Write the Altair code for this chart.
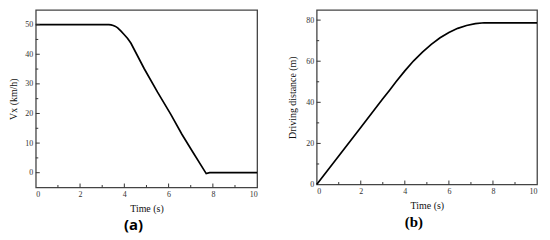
import altair as alt
import pandas as pd

# Panel (a): longitudinal speed
t_a = [0, 3.3, 3.4, 3.5, 3.6, 3.7, 3.85, 4.0, 4.15, 4.3, 4.9, 5.5, 6.1, 6.6, 7.05, 7.7, 7.85, 10]
v_a = [50, 50, 49.9, 49.7, 49.4, 48.9, 47.8, 46.6, 45.3, 43.7, 35.1, 27.2, 19.7, 13.0, 7.5, -0.3, 0, 0]

# Panel (b): driving distance
t_b = [0, 1, 2, 3, 3.3, 3.6, 4.0, 4.4, 4.8, 5.2, 5.6, 6.0, 6.4, 6.8, 7.2, 7.6, 8, 10]
d_b = [0, 13.9, 27.8, 41.7, 45.8, 50.0, 55.3, 60.2, 64.4, 68.2, 71.4, 74.0, 76.0, 77.4, 78.3, 78.7, 78.7, 78.7]

x_major = [0, 2, 4, 6, 8, 10]
x_minor = [1, 3, 5, 7, 9]
ya_major = [0, 10, 20, 30, 40, 50]
ya_minor = [5, 15, 25, 35, 45]
yb_major = [0, 20, 40, 60, 80]
yb_minor = [10, 30, 50, 70]

FONT = "Liberation Serif"
WA, HA = 223, 179
WB, HB = 222, 176


def axis(values, title, pad):
    return alt.Axis(values=values, title=title, ticks=False, tickSize=0, grid=False,
                    domain=False, labelFont=FONT, labelFontSize=8, labelColor="#333",
                    labelPadding=3, titleFont=FONT, titleFontSize=10,
                    titleFontWeight="normal", titleColor="#111", titlePadding=pad)


def panel(t, y, ylabel, ydom, ymaj, ymin, W, H, title, title_font, ypad):
    xs = alt.Scale(domain=[0, 10], nice=False, zero=False)
    ys = alt.Scale(domain=ydom, nice=False, zero=False)
    xax = axis(x_major, "Time (s)", 5)
    yax = axis(ymaj, ylabel, ypad)
    df = pd.DataFrame({"t": t, "y": y})
    line = alt.Chart(df).mark_line(color="black", strokeWidth=1.7, interpolate="linear").encode(
        x=alt.X("t:Q", scale=xs, axis=xax),
        y=alt.Y("y:Q", scale=ys, axis=yax),
    )
    xmaj_in = [v for v in x_major if 0 < v < 10]
    ymaj_in = [v for v in ymaj if ydom[0] < v < ydom[1]]
    xticks = alt.Chart(pd.DataFrame({"t": xmaj_in})).mark_rule(color="#333", strokeWidth=1).encode(
        x=alt.X("t:Q", scale=xs, axis=xax), y=alt.value(H), y2=alt.value(H - 4))
    xticks_min = alt.Chart(pd.DataFrame({"t": x_minor})).mark_rule(color="#333", strokeWidth=1).encode(
        x=alt.X("t:Q", scale=xs, axis=xax), y=alt.value(H), y2=alt.value(H - 2.5))
    yticks = alt.Chart(pd.DataFrame({"y": ymaj_in})).mark_rule(color="#333", strokeWidth=1).encode(
        y=alt.Y("y:Q", scale=ys, axis=yax), x=alt.value(0), x2=alt.value(4))
    yticks_min = alt.Chart(pd.DataFrame({"y": ymin})).mark_rule(color="#333", strokeWidth=1).encode(
        y=alt.Y("y:Q", scale=ys, axis=yax), x=alt.value(0), x2=alt.value(2.5))
    return alt.layer(line, xticks, xticks_min, yticks, yticks_min).properties(
        width=W, height=H,
        title=alt.TitleParams(title, orient="bottom", anchor="middle", font=title_font,
                              fontSize=15, fontWeight="bold", color="#000", offset=5, dx=-13),
    )


pa = panel(t_a, v_a, "Vx (km/h)", [-5, 55], ya_major, ya_minor, WA, HA, "(a)", "Open Sans", 6)
pb = panel(t_b, d_b, "Driving distance (m)", [0, 85], yb_major, yb_minor, WB, HB, "(b)", FONT, 8)

chart = alt.hconcat(pa, pb, spacing=60, bounds="flush").properties(
    padding={"left": 0, "top": 0, "right": 0, "bottom": 0}
).configure(background="white").configure_view(stroke="#444", strokeWidth=1.3)

chart.save("out.html", embed_options={"renderer": "svg", "actions": False})
